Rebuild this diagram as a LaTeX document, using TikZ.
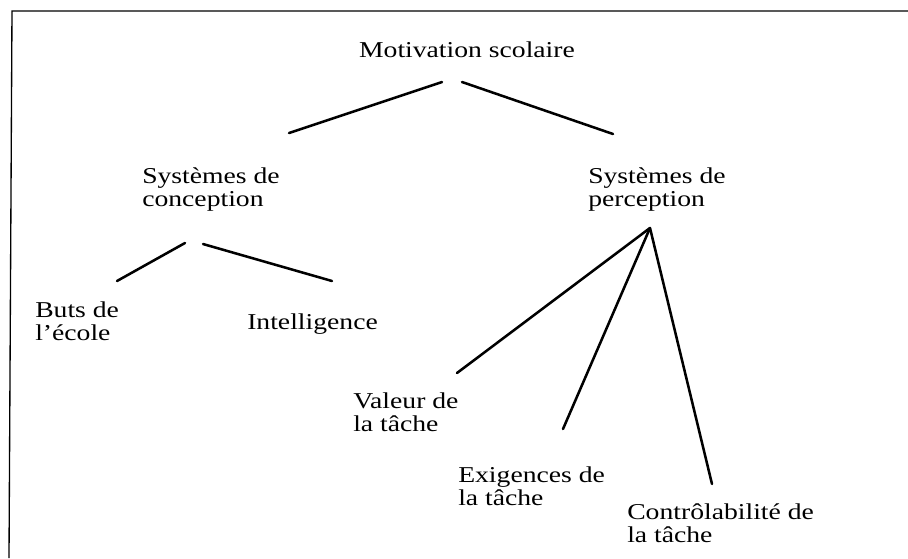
\documentclass[tikz,border=0pt]{standalone}
\usepackage{fontspec}
\setmainfont[FakeStretch=1.22]{Liberation Serif}
\usetikzlibrary{positioning}

\begin{document}
\begin{tikzpicture}[x=0.75pt,y=-0.75pt,
		lbl/.style={inner sep=0pt,anchor=north west,align=left,font={\fontsize{17}{17.5}\selectfont}},
		branch/.style={line width=1.9pt,line cap=round}]
			%\draw[help lines,step=50] (0,0) grid (908,558);
			\useasboundingbox (0,0) rectangle (908,558);

			% frame
			\draw[line width=1pt] (908,11) -- (12,11) -- (9,558);

			\node[lbl,anchor=base] (motiv) at (467,57) {Motivation scolaire};

			\node[lbl] (concep) at (142,167) {Systèmes de\\conception};
			\node[lbl] (percep) at (588,167) {Systèmes de\\perception};

			\node[lbl] (buts) at (35,301.5) {Buts de\\l'école};
			\node[lbl,anchor=base west] (intel) at (247,329) {Intelligence};

			\node[lbl] (valeur) at (353,392.5) {Valeur de\\la tâche};
			\node[lbl] (exig) at (458,466.5) {Exigences de\\la tâche};
			\node[lbl] (contr) at (627,503.5) {Contrôlabilité de\\la tâche};

			\draw[branch] ([shift={(-25,25)}]motiv.base) -- ([shift={(147,-34)}]concep.north west);
			\draw[branch] ([shift={(-5,25)}]motiv.base) -- ([shift={(25,-33)}]percep.north west);

			\draw[branch] ([shift={(43,76)}]concep.north west) -- ([shift={(82,-20.5)}]buts.north west);
			\draw[branch] ([shift={(61,77)}]concep.north west) -- ([shift={(85,-48)}]intel.base west);

			\draw[branch] ([shift={(62,61)}]percep.north west) -- ([shift={(104,-19.5)}]valeur.north west);
			\draw[branch] ([shift={(62,61)}]percep.north west) -- ([shift={(105,-37.5)}]exig.north west);
			\draw[branch] ([shift={(62,61)}]percep.north west) -- ([shift={(85,-19.5)}]contr.north west);
		\end{tikzpicture}
\end{document}
